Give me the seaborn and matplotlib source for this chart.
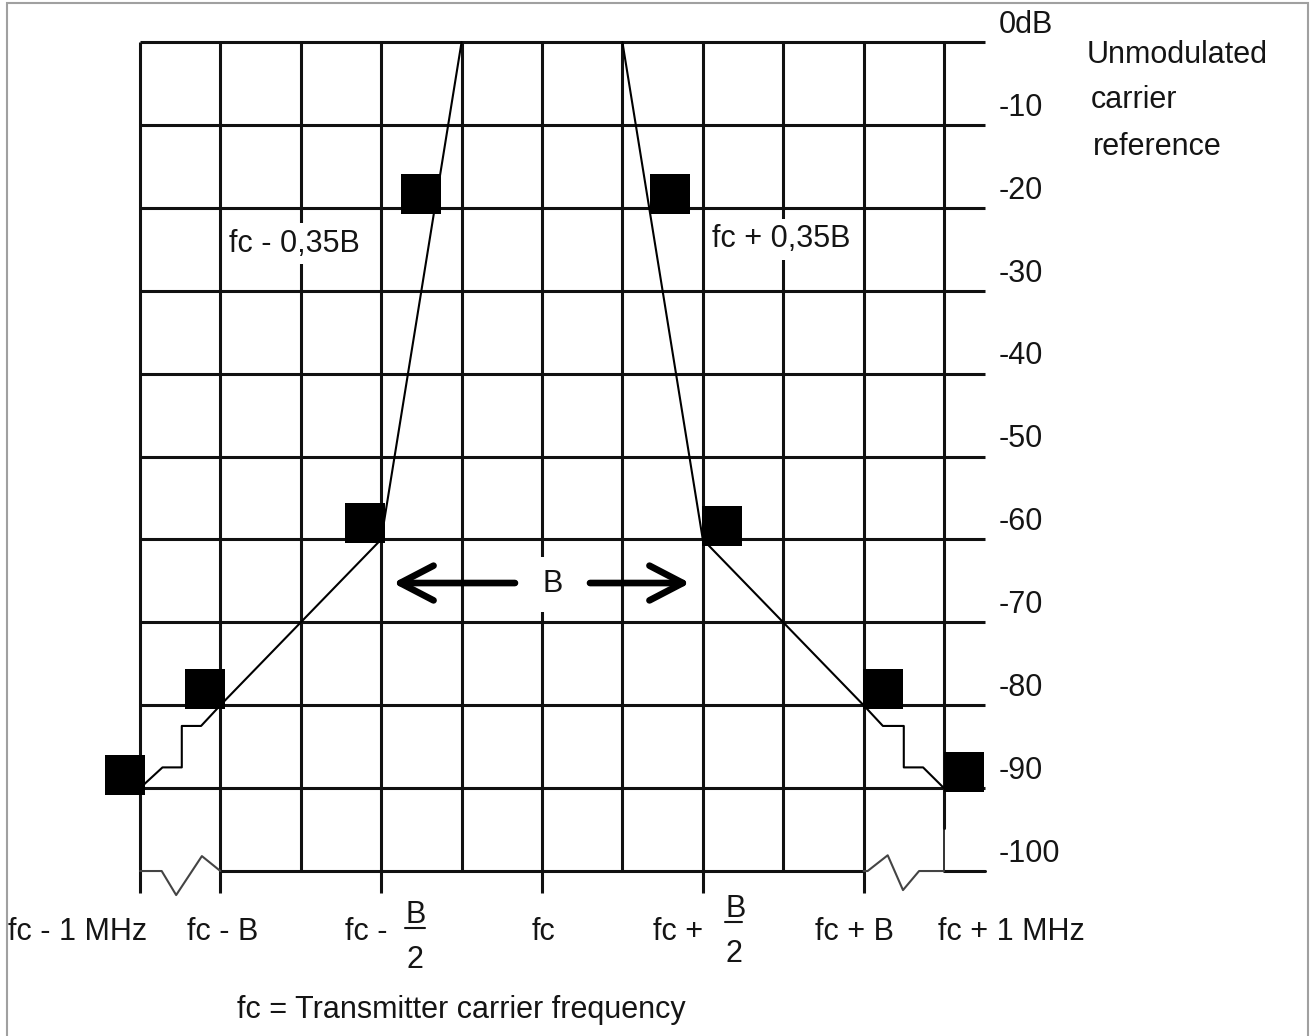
import matplotlib
matplotlib.use('Agg')
import matplotlib.pyplot as plt
import seaborn as sns
from matplotlib.patches import Rectangle

# x is measured in grid steps from fc (fc +/- B = +/-4, fc +/- 1 MHz = +/-5), y in dB
grid_u = [-5, -4, -3, -2, -1, 0, 1, 2, 3, 4, 5]
grid_db = [0, -10, -20, -30, -40, -50, -60, -70, -80, -90, -100]
db_labels = ['0dB', '-10', '-20', '-30', '-40', '-50', '-60', '-70', '-80', '-90', '-100']
tick_u = [-5, -4, -2, 0, 2, 4]

# spectrum mask, left and right flanks
left_u = [-5, -4.72, -4.48, -4.48, -4.24, -4, -2, -1]
left_db = [-90, -87.5, -87.5, -82.5, -82.5, -80, -60, 0]
right_u = [1, 2, 4, 4.24, 4.5, 4.5, 4.74, 5]
right_db = [0, -60, -80, -82.5, -82.5, -87.5, -87.5, -90]

# black square markers next to the mask corners
sq_u = [-5.19, -4.19, -2.20, -1.51, 1.59, 2.24, 4.24, 5.25]
sq_db = [-88.4, -78.0, -58.0, -18.3, -18.3, -58.4, -78.0, -88.1]

# axis-break zigzags on the -100 line
zig_left_u = [-5, -4.73, -4.55, -4.23, -4]
zig_left_db = [-100, -100, -102.9, -98.2, -100]
zig_right_u = [4, 4.05, 4.30, 4.49, 4.69, 5]
zig_right_db = [-100, -100, -98.1, -102.3, -100, -100]

sns.set_theme(style='white')
plt.rcParams['font.family'] = ['Liberation Sans', 'DejaVu Sans']

fig = plt.figure(figsize=(13.14, 10.36), dpi=100)
ax = fig.add_axes([0, 0, 1, 1])
ax.set_xlim(-6.741, 9.602)
ax.set_ylim(-119.9, 5.066)
ax.axis('off')

gc = '#111111'
glw = 2.2
tc = '#151515'
fs = 22

# horizontal grid lines
for d in grid_db[:-1]:
    ax.plot([-5, 5.51], [d, d], color=gc, lw=glw, zorder=1, solid_capstyle='butt')
ax.plot([-4, 4], [-100, -100], color=gc, lw=glw, zorder=1)
ax.plot([5, 5.51], [-100, -100], color=gc, lw=glw, zorder=1)

# vertical grid lines
for u in grid_u:
    if u == 5:
        ax.plot([u, u], [0, -94.8], color=gc, lw=glw, zorder=1)
        ax.plot([u, u], [-94.8, -100], color=gc, lw=1.2, zorder=1)
    else:
        bottom = -102.65 if u in tick_u else -100
        ax.plot([u, u], [0, bottom], color=gc, lw=glw, zorder=1, solid_capstyle='butt')

ax.plot(zig_left_u, zig_left_db, color='#444444', lw=1.5, zorder=1)
ax.plot(zig_right_u, zig_right_db, color='#444444', lw=1.5, zorder=1)

sns.lineplot(x=left_u, y=left_db, sort=False, estimator=None, color='black', lw=1.5, ax=ax, zorder=2)
sns.lineplot(x=right_u, y=right_db, sort=False, estimator=None, color='black', lw=1.5, ax=ax, zorder=2)
sns.scatterplot(x=sq_u, y=sq_db, marker='s', s=830, color='black', linewidth=0, ax=ax, zorder=3)

# dB labels
for d, lab in zip(grid_db, db_labels):
    ax.text(5.68, d + 1.1, lab, fontsize=fs, color=tc, va='baseline', ha='left')

ax.text(6.78, -2.53, 'Unmodulated', fontsize=fs, color=tc, va='baseline')
ax.text(6.82, -7.96, 'carrier', fontsize=fs, color=tc, va='baseline')
ax.text(6.85, -13.63, 'reference', fontsize=fs, color=tc, va='baseline')

box = dict(facecolor='white', edgecolor='none', pad=4)
ax.text(-3.89, -25.33, 'fc - 0,35B', fontsize=fs, color=tc, va='baseline', bbox=box, zorder=4)
ax.text(2.11, -24.73, 'fc + 0,35B', fontsize=fs, color=tc, va='baseline', bbox=box, zorder=4)

# bandwidth arrows
ax.text(0.012, -66.35, 'B', fontsize=fs, color=tc, va='baseline',
        bbox=dict(facecolor='white', edgecolor='none', pad=9), zorder=4)
arrow = dict(arrowstyle='->,head_length=2.4,head_width=1.25', lw=4.8, color='black',
             shrinkA=0, shrinkB=0, mutation_scale=10, capstyle='round', joinstyle='round')
ax.annotate('', xy=(-1.853, -65.26), xytext=(-0.336, -65.26), arrowprops=arrow, zorder=4)
ax.annotate('', xy=(1.841, -65.26), xytext=(0.597, -65.26), arrowprops=arrow, zorder=4)

# frequency labels
freq_u = [-6.64, -4.42, -0.124, 3.40, 4.93]
freq_labels = ['fc - 1 MHz', 'fc - B', 'fc', 'fc + B', 'fc + 1 MHz']
for u, lab in zip(freq_u, freq_labels):
    ax.text(u, -108.3, lab, fontsize=fs, color=tc, va='baseline')

ax.text(-2.45, -108.3, 'fc -', fontsize=fs, color=tc, va='baseline')
ax.text(-1.70, -106.27, 'B', fontsize=fs, color=tc, va='baseline')
ax.plot([-1.70, -1.46], [-106.9, -106.9], color=tc, lw=1.5)
ax.text(-1.69, -111.7, '2', fontsize=fs, color=tc, va='baseline')

ax.text(1.38, -108.3, 'fc +', fontsize=fs, color=tc, va='baseline')
ax.text(2.28, -105.55, 'B', fontsize=fs, color=tc, va='baseline')
ax.plot([2.28, 2.49], [-106.15, -106.15], color=tc, lw=1.5)
ax.text(2.28, -110.98, '2', fontsize=fs, color=tc, va='baseline')

ax.text(-3.79, -117.7, 'fc = Transmitter carrier frequency', fontsize=fs, color=tc, va='baseline')

# outer frame
fig.add_artist(Rectangle((7 / 1314, -0.01), 1301 / 1314, 1.01 - 3 / 1036,
                         transform=fig.transFigure, fill=False, edgecolor='#a0a0a0', lw=1.5))

fig.savefig('out.png', dpi=100)
